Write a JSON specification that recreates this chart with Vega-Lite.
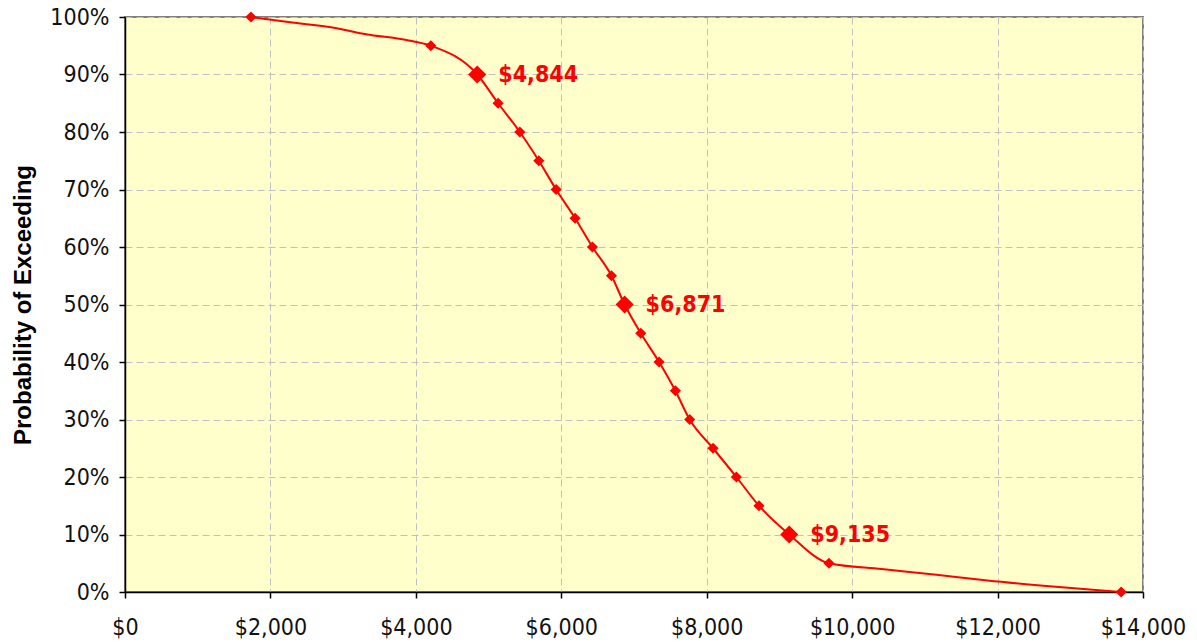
{
  "$schema": "https://vega.github.io/schema/vega-lite/v6.json",
  "width": 1018,
  "height": 575,
  "autosize": {"type": "none"},
  "padding": {"left": 125, "top": 17, "right": 54, "bottom": 51},
  "background": "white",
  "config": {
    "view": {"fill": "#FFFFCC", "stroke": "#808080", "strokeWidth": 2},
    "axis": {
      "labelFont": "DejaVu Sans Condensed, Noto Sans",
      "labelFontSize": 23,
      "labelColor": "#111111",
      "labelFlush": false,
      "labelOverlap": false,
      "tickColor": "#000000",
      "domainColor": "#000000",
      "domainWidth": 1.5,
      "tickSize": 6,
      "tickWidth": 1.5,
      "gridColor": "#C0C0C0",
      "gridDash": [7, 4],
      "gridWidth": 1
    }
  },
  "data": {
    "values": [
      {"x": 1732, "p": 1.00, "kind": "marker"},
      {"x": 2327, "p": 0.99, "kind": "line"},
      {"x": 2928, "p": 0.98, "kind": "line"},
      {"x": 3313, "p": 0.97, "kind": "line"},
      {"x": 3870, "p": 0.96, "kind": "line"},
      {"x": 4206, "p": 0.95, "kind": "marker"},
      {"x": 4844, "p": 0.90, "kind": "key"},
      {"x": 5131, "p": 0.85, "kind": "marker"},
      {"x": 5430, "p": 0.80, "kind": "marker"},
      {"x": 5691, "p": 0.75, "kind": "marker"},
      {"x": 5929, "p": 0.70, "kind": "marker"},
      {"x": 6190, "p": 0.65, "kind": "marker"},
      {"x": 6428, "p": 0.60, "kind": "marker"},
      {"x": 6690, "p": 0.55, "kind": "marker"},
      {"x": 6871, "p": 0.50, "kind": "key"},
      {"x": 7093, "p": 0.45, "kind": "marker"},
      {"x": 7345, "p": 0.40, "kind": "marker"},
      {"x": 7569, "p": 0.35, "kind": "marker"},
      {"x": 7766, "p": 0.30, "kind": "marker"},
      {"x": 8087, "p": 0.25, "kind": "marker"},
      {"x": 8408, "p": 0.20, "kind": "marker"},
      {"x": 8719, "p": 0.15, "kind": "marker"},
      {"x": 9135, "p": 0.10, "kind": "key"},
      {"x": 9681, "p": 0.05, "kind": "marker"},
      {"x": 10405, "p": 0.04, "kind": "line"},
      {"x": 11160, "p": 0.03, "kind": "line"},
      {"x": 11862, "p": 0.02, "kind": "line"},
      {"x": 12715, "p": 0.01, "kind": "line"},
      {"x": 13700, "p": 0.00, "kind": "marker"}
    ]
  },
  "layer": [
    {
      "mark": {"type": "line", "color": "#FF0000", "strokeWidth": 2, "interpolate": "monotone"},
      "encoding": {
        "x": {
          "field": "x",
          "type": "quantitative",
          "scale": {"domain": [0, 14000], "nice": false, "zero": false},
          "axis": {
            "values": [0, 2000, 4000, 6000, 8000, 10000, 12000, 14000],
            "format": "$,.0f",
            "title": null,
            "labelPadding": 18,
            "grid": true
          }
        },
        "y": {
          "field": "p",
          "type": "quantitative",
          "scale": {"domain": [0, 1], "nice": false},
          "axis": {
            "values": [0, 0.1, 0.2, 0.3, 0.4, 0.5, 0.6, 0.7, 0.8, 0.9, 1],
            "format": ".0%",
            "title": "Probability of Exceeding",
            "titleFont": "Liberation Sans",
            "titleFontSize": 24,
            "titleFontWeight": "bold",
            "titleColor": "#000000",
            "titleAngle": -90,
            "titleX": -102,
            "titleY": 287.5,
            "titleBaseline": "middle",
            "titleAlign": "center",
            "labelPadding": 10,
            "grid": true
          }
        }
      }
    },
    {
      "transform": [{"filter": "datum.kind != 'line'"}],
      "mark": {"type": "point", "shape": "diamond", "filled": true, "color": "#FF0000", "opacity": 1},
      "encoding": {
        "x": {"field": "x", "type": "quantitative"},
        "y": {"field": "p", "type": "quantitative"},
        "size": {
          "field": "kind",
          "type": "nominal",
          "scale": {"domain": ["marker", "key"], "range": [125, 330]},
          "legend": null
        }
      }
    },
    {
      "transform": [{"filter": "datum.kind == 'key'"}],
      "mark": {
        "type": "text",
        "align": "left",
        "baseline": "middle",
        "dx": 21,
        "font": "DejaVu Sans Condensed, Noto Sans",
        "fontSize": 23,
        "fontWeight": "bold",
        "color": "#FF0000"
      },
      "encoding": {
        "x": {"field": "x", "type": "quantitative"},
        "y": {"field": "p", "type": "quantitative"},
        "text": {"field": "x", "type": "quantitative", "format": "$,.0f"}
      }
    }
  ]
}
